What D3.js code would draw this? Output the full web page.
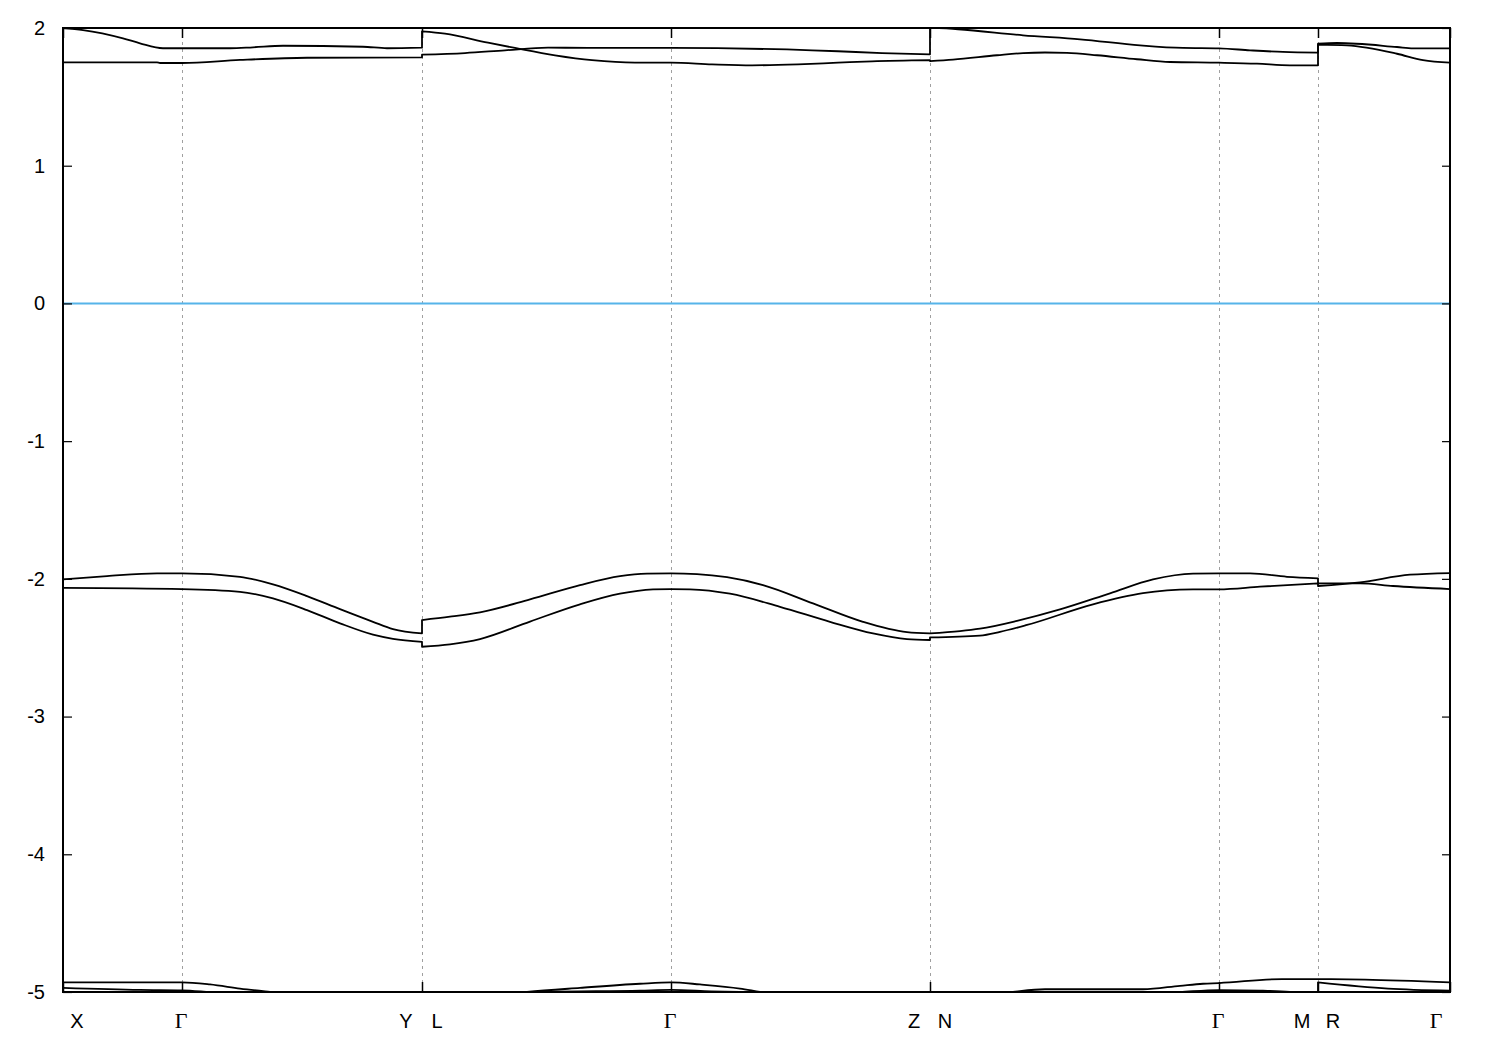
<!DOCTYPE html>
<html>
<head>
<meta charset="utf-8">
<script src="https://cdn.jsdelivr.net/npm/d3@7"></script>
<style>
  html, body { margin: 0; padding: 0; background: #fff; }
  svg { display: block; }
</style>
</head>
<body>
<svg id="chart" width="1500" height="1050"></svg>
<script>
// ---- data ----
const kNodes = [0, 0.2975, 0.8975, 1.52, 2.1675, 2.89, 3.1375, 3.4675];
const kLabels = [["X"], ["Γ"], ["Y", "L"], ["Γ"], ["Z", "N"], ["Γ"], ["M", "R"], ["Γ"]];
const yTicks = [-5, -4, -3, -2, -1, 0, 1, 2];
const fermiLevel = 0;

// bands: [k, E]; repeated k marks a discontinuity in the path
const bandT1 = [
  [0, 2.0], [0.05, 1.985], [0.15, 1.925], [0.1925, 1.889], [0.25, 1.853], [0.2975, 1.853],
  [0.4175, 1.853], [0.475, 1.860], [0.55, 1.871], [0.75, 1.864], [0.81, 1.853], [0.8975, 1.857],
  [0.8975, 1.976], [0.955, 1.959], [1.0625, 1.893], [1.13, 1.855], [1.23, 1.802], [1.3225, 1.766], [1.43, 1.748], [1.52, 1.748],
  [1.6225, 1.736], [1.7225, 1.729], [1.8375, 1.736], [1.9375, 1.748], [2.0225, 1.758], [2.1675, 1.766],
  [2.1675, 1.760], [2.225, 1.770], [2.335, 1.802], [2.4, 1.818], [2.455, 1.822], [2.51, 1.819], [2.585, 1.802], [2.685, 1.773], [2.7675, 1.753], [2.89, 1.748],
  [2.985, 1.741], [3.0675, 1.729], [3.1375, 1.729],
  [3.1375, 1.879], [3.21, 1.874], [3.335, 1.813], [3.4, 1.766], [3.4675, 1.748]
];
const bandT2 = [
  [0, 1.751], [0.235, 1.751], [0.2425, 1.746], [0.2975, 1.746],
  [0.4425, 1.768], [0.61, 1.784], [0.8975, 1.787],
  [0.8975, 1.806], [1.005, 1.818], [1.105, 1.838], [1.2125, 1.857], [1.4125, 1.855], [1.52, 1.855],
  [1.8725, 1.838], [1.9375, 1.831], [2.0475, 1.818], [2.1675, 1.809],
  [2.1675, 2.002], [2.2375, 1.991], [2.4, 1.947], [2.5425, 1.918], [2.6925, 1.874], [2.8, 1.855], [2.89, 1.852],
  [2.9675, 1.838], [3.05, 1.826], [3.1375, 1.821],
  [3.1375, 1.886], [3.185, 1.891], [3.335, 1.862], [3.375, 1.852], [3.4675, 1.852]
];
const bandM1 = [
  [0, -2.004], [0.11, -1.980], [0.235, -1.960], [0.2975, -1.960],
  [0.4425, -1.985], [0.525, -2.040], [0.61, -2.125], [0.6925, -2.220], [0.775, -2.312], [0.825, -2.365], [0.8975, -2.396],
  [0.8975, -2.299], [0.9675, -2.275], [1.0425, -2.243], [1.1675, -2.149], [1.2925, -2.045], [1.3925, -1.980], [1.46, -1.962], [1.52, -1.960],
  [1.585, -1.965], [1.66, -1.988], [1.75, -2.045], [1.875, -2.178], [2.0, -2.312], [2.11, -2.387], [2.1675, -2.396],
  [2.1675, -2.396], [2.2425, -2.380], [2.2925, -2.362], [2.385, -2.305], [2.4925, -2.222], [2.6175, -2.105], [2.725, -2.004], [2.825, -1.962], [2.89, -1.960],
  [2.9675, -1.960], [3.06, -1.985], [3.1375, -1.996],
  [3.1375, -2.033], [3.2425, -2.033], [3.325, -2.052], [3.4675, -2.074]
];
const bandM2 = [
  [0, -2.065], [0.2975, -2.074],
  [0.4425, -2.094], [0.525, -2.142], [0.61, -2.227], [0.6925, -2.323], [0.775, -2.405], [0.825, -2.435], [0.8975, -2.457],
  [0.8975, -2.493], [0.9675, -2.475], [1.0425, -2.437], [1.1675, -2.310], [1.2925, -2.185], [1.3925, -2.108], [1.475, -2.077], [1.52, -2.074],
  [1.5675, -2.076], [1.6675, -2.108], [1.7925, -2.203], [1.9175, -2.312], [2.025, -2.396], [2.11, -2.437], [2.1675, -2.444],
  [2.1675, -2.425], [2.2925, -2.412], [2.3425, -2.385], [2.41, -2.335], [2.575, -2.185], [2.7, -2.104], [2.825, -2.077], [2.89, -2.076],
  [2.9925, -2.057], [3.1375, -2.033],
  [3.1375, -2.052], [3.2425, -2.025], [3.3675, -1.970], [3.4675, -1.958]
];
const bandB1 = [
  [0, -4.93], [0.2975, -4.93],
  [0.3675, -4.945], [0.4425, -4.975], [0.5175, -5.0], [0.8975, -5.1],
  [0.8975, -5.1], [1.16, -5.0], [1.2925, -4.97], [1.4425, -4.94], [1.52, -4.93],
  [1.5925, -4.945], [1.6925, -4.975], [1.7425, -5.0], [2.1675, -5.1],
  [2.1675, -5.1], [2.375, -5.0], [2.455, -4.98], [2.7, -4.98], [2.7925, -4.955], [2.85, -4.94], [2.89, -4.935],
  [3.0475, -4.906], [3.1375, -4.906],
  [3.1375, -4.906], [3.255, -4.91], [3.4675, -4.93]
];
const bandB2 = [
  [0, -4.97], [0.1925, -4.985], [0.2975, -4.988],
  [0.3675, -5.0], [0.8975, -5.1],
  [0.8975, -5.1], [1.1925, -5.0], [1.4425, -4.99], [1.52, -4.985],
  [1.62, -4.995], [1.6925, -5.0], [2.1675, -5.1],
  [2.1675, -5.1], [2.7925, -5.0], [2.89, -4.986],
  [2.9925, -4.99], [3.0675, -5.0], [3.1375, -5.05],
  [3.1375, -4.93], [3.3125, -4.975], [3.4675, -4.99]
];
const bands = [bandT1, bandT2, bandM1, bandM2, bandB1, bandB2];

// ---- layout ----
const svg = d3.select("#chart");
const L = 63, R = 1450, T = 28, B = 992;
const x = d3.scaleLinear().domain([kNodes[0], kNodes[kNodes.length - 1]]).range([L, R]);
const y = d3.scaleLinear().domain([-5, 2]).range([B, T]);

svg.append("defs").append("clipPath").attr("id", "plotclip")
  .append("rect").attr("x", L).attr("y", T).attr("width", R - L).attr("height", B - T);

// vertical dashed grid lines at interior high-symmetry points
svg.append("g").selectAll("line").data(kNodes.slice(1, -1)).join("line")
  .attr("x1", d => x(d)).attr("x2", d => x(d))
  .attr("y1", T).attr("y2", B)
  .attr("stroke", "#a0a0a0").attr("stroke-width", 1)
  .attr("stroke-dasharray", "3,4")
  .attr("shape-rendering", "crispEdges");

// Fermi level
svg.append("line")
  .attr("x1", L).attr("x2", R).attr("y1", y(fermiLevel)).attr("y2", y(fermiLevel))
  .attr("stroke", "#56b4e9").attr("stroke-width", 2);

// bands
const lineGen = d3.line().x(d => x(d[0])).y(d => y(d[1])).curve(d3.curveMonotoneX);
function bandPath(pts) {
  const segs = [];
  let cur = [pts[0]];
  for (let i = 1; i < pts.length; i++) {
    if (pts[i][0] === pts[i - 1][0]) { segs.push(cur); cur = [pts[i]]; }
    else cur.push(pts[i]);
  }
  segs.push(cur);
  return segs.map((s, i) => {
    const p = lineGen(s.length > 1 ? s : [s[0], s[0]]);
    return i === 0 ? p : "L" + p.slice(1);
  }).join("");
}
svg.append("g").attr("clip-path", "url(#plotclip)")
  .selectAll("path").data(bands).join("path")
  .attr("d", bandPath)
  .attr("fill", "none").attr("stroke", "#000").attr("stroke-width", 1.8)
  .attr("stroke-linejoin", "round");

// y ticks, left and right (inward)
const yAxisL = d3.axisLeft(y).tickValues(yTicks).tickFormat(d3.format("d")).tickSizeInner(-9).tickSizeOuter(0).tickPadding(18);
const gyl = svg.append("g").attr("transform", `translate(${L},0)`).call(yAxisL);
gyl.select(".domain").remove();
gyl.selectAll("line").attr("stroke", "#000").attr("stroke-width", 1.2);
gyl.selectAll("text").attr("font-family", "Liberation Sans, Arial, sans-serif").attr("font-size", 20).attr("fill", "#000")
  .text(d => d < 0 ? "-" + Math.abs(d) : String(d));

const yAxisR = d3.axisRight(y).tickValues(yTicks).tickFormat("").tickSizeInner(-8).tickSizeOuter(0);
const gyr = svg.append("g").attr("transform", `translate(${R},0)`).call(yAxisR);
gyr.select(".domain").remove();
gyr.selectAll("line").attr("stroke", "#000").attr("stroke-width", 1.2);

// x ticks bottom & top (inward)
const xAxisB = d3.axisBottom(x).tickValues(kNodes).tickFormat("").tickSizeInner(-10).tickSizeOuter(0);
const gxb = svg.append("g").attr("transform", `translate(0,${B})`).call(xAxisB);
gxb.select(".domain").remove();
gxb.selectAll("line").attr("stroke", "#000").attr("stroke-width", 1.5);
const xAxisT = d3.axisTop(x).tickValues(kNodes).tickFormat("").tickSizeInner(-10).tickSizeOuter(0);
const gxt = svg.append("g").attr("transform", `translate(0,${T})`).call(xAxisT);
gxt.select(".domain").remove();
gxt.selectAll("line").attr("stroke", "#000").attr("stroke-width", 1.5);

// x labels
const labelY = 1028;
const lab = svg.append("g");
kNodes.forEach((k, i) => {
  const parts = kLabels[i];
  const cx = x(k);
  const items = [];
  if (parts.length === 2) {
    items.push({ t: parts[0], px: cx - 16 }, { t: parts[1], px: cx + 15 });
  } else if (i === 0) {
    items.push({ t: parts[0], px: cx + 14 });
  } else if (i === kNodes.length - 1) {
    items.push({ t: parts[0], px: cx - 14 });
  } else {
    items.push({ t: parts[0], px: cx - 1 });
  }
  items.forEach(it => {
    lab.append("text")
      .attr("x", it.px).attr("y", labelY)
      .attr("text-anchor", "middle")
      .attr("font-family", it.t === "Γ" ? "Liberation Serif, Times New Roman, serif" : "Liberation Sans, Arial, sans-serif")
      .attr("font-size", it.t === "Γ" ? 22 : 20)
      .attr("fill", "#000")
      .text(it.t);
  });
});

// frame
svg.append("rect").attr("x", L).attr("y", T).attr("width", R - L).attr("height", B - T)
  .attr("fill", "none").attr("stroke", "#000").attr("stroke-width", 1.6)
  .attr("shape-rendering", "crispEdges");
</script>
</body>
</html>
